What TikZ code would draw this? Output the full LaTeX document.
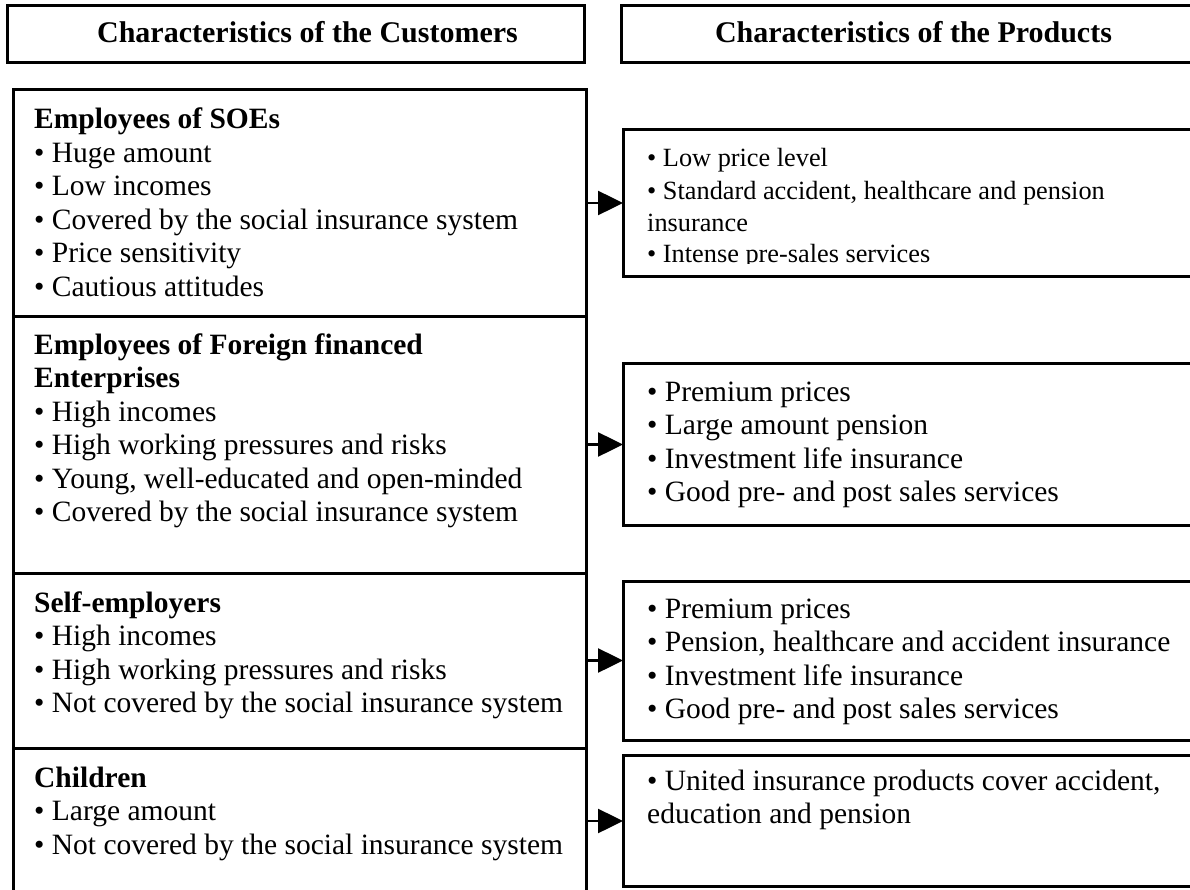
\documentclass[tikz,border=0pt]{standalone}
\usepackage{fontspec}
\setmainfont{Liberation Serif}
\usetikzlibrary{arrows.meta}
\begin{document}
\begin{tikzpicture}[x=1pt,y=-1pt,
  box/.style={draw, line width=3pt, rectangle, inner sep=0pt, outer sep=0pt},
  body/.style={font=\fontsize{29.5}{33.5}\selectfont, inner sep=0pt, anchor=base west},
  small/.style={font=\fontsize{26.3}{32}\selectfont, inner sep=0pt, anchor=base west},
  head/.style={font=\fontsize{30}{34}\selectfont\bfseries, inner sep=0pt, anchor=base},
  grouptitle/.style={font=\fontsize{29.5}{33.5}\selectfont\bfseries, inner sep=0pt, anchor=base west},
  arr/.style={line width=2.5pt, -{Triangle[length=25pt,width=24pt]}}]
\useasboundingbox (0,0) rectangle (1190,890);
\clip (0,0) rectangle (1190,890);

% headers
\node[box, minimum width=577pt, minimum height=57pt] (hc) at (295.5,34.5) {};
\node[head] (hct) at (307.5,43) {Characteristics of the Customers};
\node[box, minimum width=585pt, minimum height=57pt] (hp) at (913.5,34.5) {};
\node[head] (hpt) at (913.5,43) {Characteristics of the Products};

% customer sections
\node[box, minimum width=573pt, minimum height=226pt] (s1) at (299.5,203) {};
\node[box, minimum width=573pt, minimum height=257pt] (s2) at (299.5,444.5) {};
\node[box, minimum width=573pt, minimum height=175pt] (s3) at (299.5,660.5) {};
\node[box, minimum width=573pt, minimum height=146pt] (s4) at (299.5,821) {};

% product boxes
\node[box, minimum width=583pt, minimum height=147pt] (p1) at (914.5,203) {};
\node[box, minimum width=583pt, minimum height=162pt] (p2) at (914.5,444.5) {};
\node[box, minimum width=583pt, minimum height=159pt] (p3) at (914.5,660.5) {};
\node[box, minimum width=583pt, minimum height=131pt] (p4) at (914.5,821) {};

% section 1 text
\node[grouptitle] (s1h) at (34,129) {Employees of SOEs};
\foreach \t [count=\i] in {Huge amount, Low incomes, Covered by the social insurance system, Price sensitivity, Cautious attitudes}
  \node[body] (s1l\i) at (34,{129+\i*33.5}) {• \t};

% section 2 text
\node[grouptitle] (s2h) at (34,354) {Employees of Foreign financed};
\node[grouptitle] (s2h2) at (34,387.5) {Enterprises};
\foreach \t [count=\i] in {High incomes, High working pressures and risks, {Young, well-educated and open-minded}, Covered by the social insurance system}
  \node[body] (s2l\i) at (34,{387.5+\i*33.5}) {• \t};

% section 3 text
\node[grouptitle] (s3h) at (34,612) {Self-employers};
\foreach \t [count=\i] in {High incomes, High working pressures and risks, Not covered by the social insurance system}
  \node[body] (s3l\i) at (34,{612+\i*33.5}) {• \t};

% section 4 text
\node[grouptitle] (s4h) at (34,787) {Children};
\foreach \t [count=\i] in {Large amount, Not covered by the social insurance system}
  \node[body] (s4l\i) at (34,{787+\i*33.5}) {• \t};

% product box 1 text (clipped at bottom)
\begin{scope}
\clip (623,130) rectangle (1210,264);
\node[small] (p1l1) at (647,167) {• Low price level};
\node[small] (p1l2) at (647,200) {• Standard accident, healthcare and pension};
\node[small] (p1l3) at (647,232) {insurance};
\node[small] (p1l4) at (647,263) {• Intense pre-sales services};
\end{scope}

% product box 2 text
\foreach \t [count=\i] in {Premium prices, Large amount pension, Investment life insurance, Good pre- and post sales services}
  \node[body] (p2l\i) at (647,{367.5+\i*33.5}) {• \t};

% product box 3 text
\foreach \t [count=\i] in {Premium prices, {Pension, healthcare and accident insurance}, Investment life insurance, Good pre- and post sales services}
  \node[body] (p3l\i) at (647,{584.5+\i*33.5}) {• \t};

% product box 4 text
\node[body] (p4l1) at (647,790) {• United insurance products cover accident,};
\node[body] (p4l2) at (647,823.5) {education and pension};

% arrows
\draw[arr] (s1.east) -- (p1.west);
\draw[arr] (s2.east) -- (p2.west);
\draw[arr] (s3.east) -- (p3.west);
\draw[arr] (s4.east) -- (p4.west);
\end{tikzpicture}
\end{document}
